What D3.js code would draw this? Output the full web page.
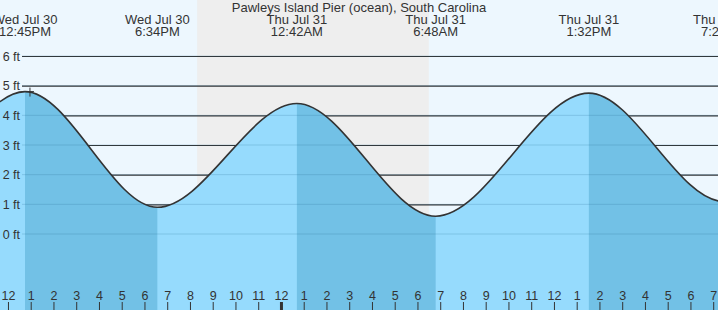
<!DOCTYPE html>
<html>
<head>
<meta charset="utf-8">
<script src="https://cdn.jsdelivr.net/npm/d3@7"></script>
<style>
  body { margin: 0; background: #fff; }
  svg { display: block; font-family: Arial, "Liberation Sans", sans-serif; }
</style>
</head>
<body>
<div id="app"></div>
<script>
(function (d3) {

  'use strict'

  // tide extremes (some lie just outside the view so the curve is smooth at the edges)
  const tideTimes = ['2025-07-30 00:20', '2025-07-30 06:30', '2025-07-30 12:45', '2025-07-30 18:34',
                     '2025-07-31 00:42', '2025-07-31 06:48', '2025-07-31 13:32', '2025-07-31 19:27',
                     '2025-08-01 01:35']
  const tideHeights = [4.2, 0.7, 4.8, 0.9, 4.4, 0.6, 4.75, 1.1, 4.3]
  const tideLabels = ['', '', 'Wed Jul 30|12:45PM', 'Wed Jul 30|6:34PM', 'Thu Jul 31|12:42AM',
                      'Thu Jul 31|6:48AM', 'Thu Jul 31|1:32PM', 'Thu Jul 31|7:27PM', '']
  const nightStart = '2025-07-30 20:19'
  const nightEnd = '2025-07-31 06:30'
  const viewStart = '2025-07-30 11:39'
  const viewEnd = '2025-07-31 19:12:40'
  const nowTime = '2025-07-30 12:58'
  const feetTicks = [0, 1, 2, 3, 4, 5, 6]
  const title = 'Pawleys Island Pier (ocean), South Carolina'

  const parse = d3.timeParse('%Y-%m-%d %H:%M')
  const parseS = d3.timeParse('%Y-%m-%d %H:%M:%S')
  const data = tideTimes.map((t, i) => ({ t: parse(t), h: tideHeights[i], label: tideLabels[i] }))

  const w = 718
  const h = 310

  const svg = d3.select('#app').append('svg')
    .attr('width', w)
    .attr('height', h)

  const x = d3.scaleTime()
    .domain([parse(viewStart), parseS(viewEnd)])
    .range([0, w])
  const y = d3.scaleLinear()
    .domain([0, 6])
    .range([234, 56])

  svg.append('clipPath').attr('id', 'plot')
    .append('rect').attr('x', 0).attr('y', 0).attr('width', w).attr('height', h)

  // day sky and night band
  svg.append('rect').attr('width', w).attr('height', h).attr('fill', '#edf7fe')
  svg.append('rect')
    .attr('x', x(parse(nightStart)))
    .attr('width', x(parse(nightEnd)) - x(parse(nightStart)))
    .attr('height', h)
    .attr('fill', '#eeeeee')

  // dark grid lines behind the water
  svg.append('g')
    .attr('transform', 'translate(22,0)')
    .call(d3.axisLeft(y).tickValues(feetTicks).tickSize(-(w - 22)).tickFormat(''))
    .call(g => g.select('.domain').remove())
    .call(g => g.selectAll('line').attr('stroke', '#333').attr('stroke-width', 1.2))

  const area = d3.area()
    .x(d => x(d.t))
    .y0(h)
    .y1(d => y(d.h))
    .curve(d3.curveMonotoneX)
  const line = d3.line()
    .x(d => x(d.t))
    .y(d => y(d.h))
    .curve(d3.curveMonotoneX)

  // rising water is light, falling water is darker
  const falling = svg.append('clipPath').attr('id', 'falling')
  data.forEach((d, i) => {
    if (i < data.length - 1 && d.h > data[i + 1].h) {
      falling.append('rect')
        .attr('x', x(d.t))
        .attr('y', 0)
        .attr('width', x(data[i + 1].t) - x(d.t))
        .attr('height', h)
    }
  })

  const water = svg.append('g').attr('clip-path', 'url(#plot)')
  water.append('path').datum(data).attr('d', area).attr('fill', '#96dbfd')
  water.append('path').datum(data).attr('d', area).attr('fill', '#72c1e6')
    .attr('clip-path', 'url(#falling)')

  // faint grid lines over water
  svg.append('g')
    .selectAll('line')
    .data(feetTicks)
    .enter()
    .append('line')
    .attr('x1', 22)
    .attr('x2', w)
    .attr('y1', d => y(d))
    .attr('y2', d => y(d))
    .attr('stroke', 'rgba(40,110,150,0.22)')

  // tide curve
  svg.append('path').datum(data)
    .attr('clip-path', 'url(#plot)')
    .attr('d', line)
    .attr('fill', 'none')
    .attr('stroke', '#333')
    .attr('stroke-width', 1.6)

  // feet labels
  svg.append('g')
    .attr('transform', 'translate(22,0)')
    .call(d3.axisLeft(y).tickValues(feetTicks).tickSize(0).tickPadding(2).tickFormat(d => d + ' ft'))
    .call(g => g.select('.domain').remove())
    .call(g => g.selectAll('text').attr('fill', '#333').style('font-size', '12.5px')
      .style('font-family', 'Arial, "Liberation Sans", sans-serif'))

  // hour axis along the bottom
  svg.append('g')
    .attr('transform', 'translate(0,' + h + ')')
    .call(d3.axisTop(x).ticks(d3.timeHour.every(1)).tickSize(8).tickPadding(2)
      .tickFormat(d3.timeFormat('%-I')))
    .call(g => g.select('.domain').remove())
    .call(g => g.selectAll('line').attr('stroke', '#333'))
    .call(g => g.selectAll('.tick').filter(d => d.getHours() === 0)
      .select('line').attr('stroke-width', 3))
    .call(g => g.selectAll('text').attr('fill', '#333').style('font-size', '12.5px')
      .style('font-family', 'Arial, "Liberation Sans", sans-serif'))

  // high / low labels
  const labels = svg.append('g')
    .selectAll('text')
    .data(data.filter(d => d.label))
    .enter()
    .append('text')
    .attr('text-anchor', 'middle')
    .attr('fill', '#333')
    .style('font-size', '13px')
  labels.append('tspan').attr('x', d => x(d.t)).attr('y', 24).text(d => d.label.split('|')[0])
  labels.append('tspan').attr('x', d => x(d.t)).attr('y', 36).text(d => d.label.split('|')[1])

  // title
  svg.append('text')
    .attr('x', w / 2)
    .attr('y', 12)
    .attr('text-anchor', 'middle')
    .attr('fill', '#333')
    .style('font-size', '13px')
    .text(title)

  // current time marker
  const nx = x(parse(nowTime))
  const ny = y(tideHeights[2])
  svg.append('path')
    .attr('d', `M${nx - 4},${ny}H${nx + 4}M${nx},${ny - 4}V${ny + 5}`)
    .attr('stroke', '#333')
    .attr('stroke-width', 1)

}(d3))
</script>
</body>
</html>
